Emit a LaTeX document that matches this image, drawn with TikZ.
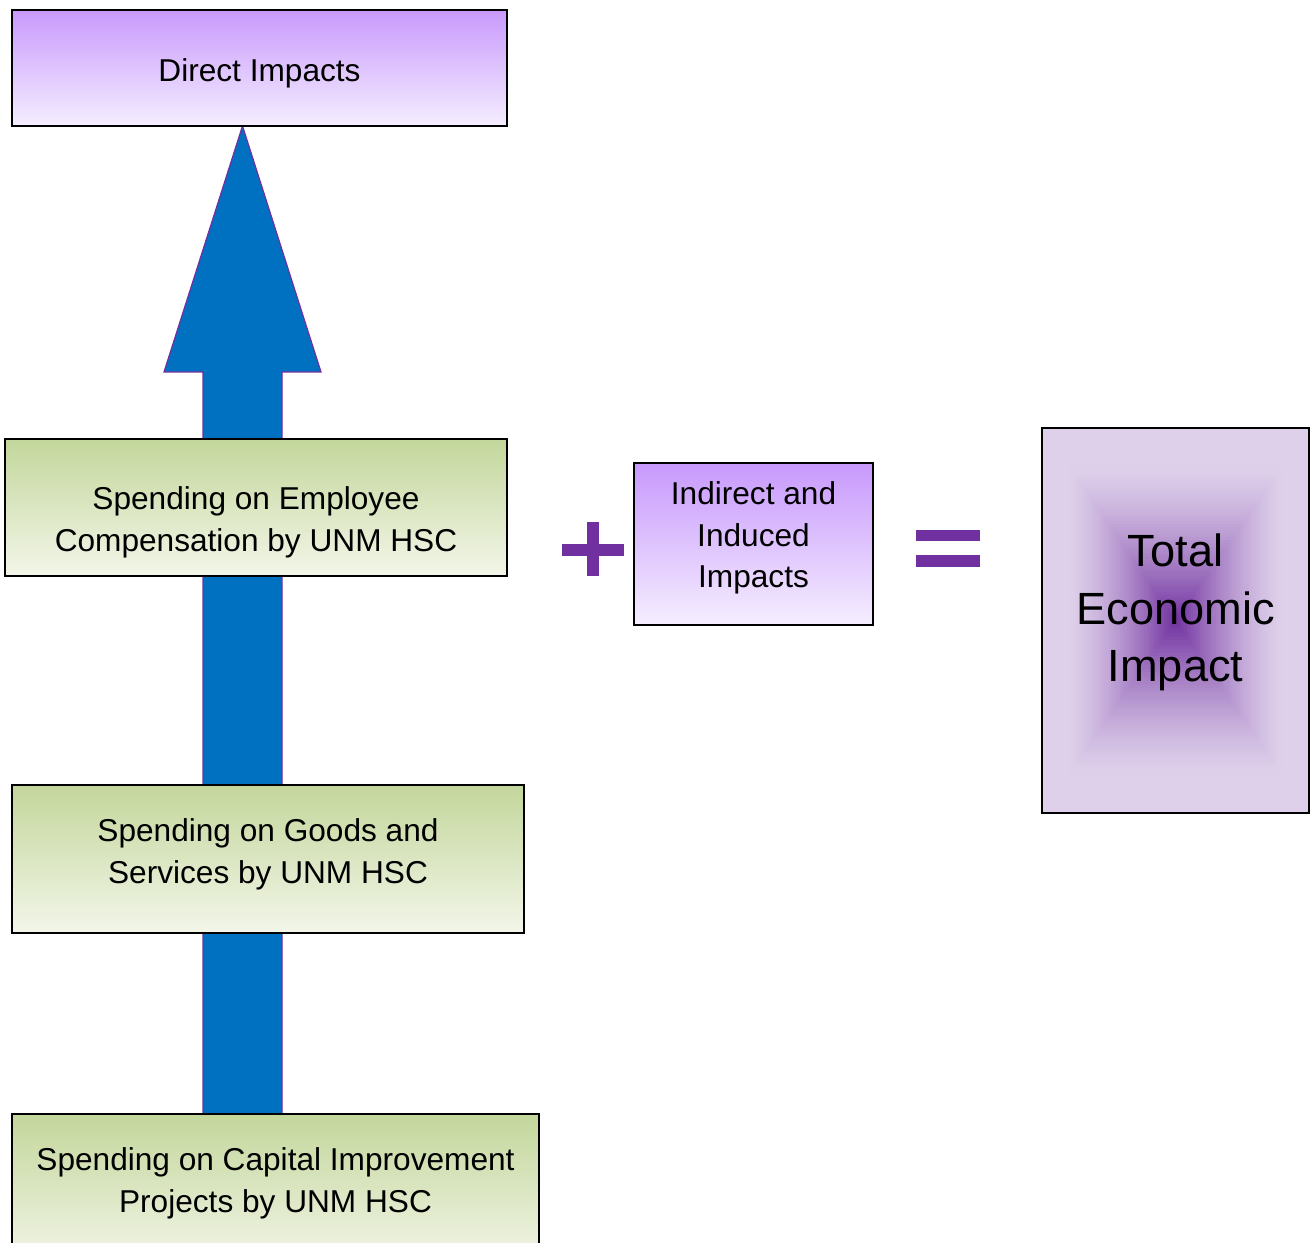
\documentclass[tikz,border=0pt]{standalone}
\usepackage{fontspec}
\setmainfont{Liberation Sans}
\definecolor{purp}{HTML}{7030A0}
\definecolor{lightp}{HTML}{DED0EA}
\definecolor{ptop}{HTML}{C899FC}
\definecolor{pbot}{HTML}{F5EEFF}
\definecolor{gtop}{HTML}{C3D69B}
\definecolor{gbot}{HTML}{F3F6E9}
\definecolor{arrowblue}{HTML}{0070C0}
\tikzset{
  txt/.style={align=center, font=\fontsize{18}{23.8}\selectfont, text=black},
  bigtxt/.style={align=center, font=\fontsize{25.7}{32.8}\selectfont, text=black},
  pbox/.style={draw=black, line width=1.1pt, top color=ptop, bottom color=pbot, inner sep=0pt},
  gbox/.style={draw=black, line width=1.1pt, top color=gtop, bottom color=gbot, inner sep=0pt},
  bigarrow/.style={fill=arrowblue, draw=purp, line width=0.7pt, line join=miter},
  opbar/.style={draw=purp, line width=6.4pt},
}
\begin{document}
\begin{tikzpicture}[x=0.02cm, y=-0.02cm]
\useasboundingbox (0,0) rectangle (1312,1243);
% big arrow (behind boxes)
\coordinate (abot) at (242.5,1114);
\coordinate (atip) at (242.5,126);
\draw[bigarrow] (203,1114) -- (203,372) -- (164,372) -- (atip) -- (321,372) -- (282,372) -- (282,1114) -- cycle;
% boxes
\node[pbox, minimum width=9.9cm, minimum height=2.32cm] (direct) at (259.5,68) {};
\node[txt, yshift=-0.1cm] (direct-t) at (direct.center) {Direct Impacts};
\node[gbox, minimum width=10.04cm, minimum height=2.74cm] (employee) at (256,507.5) {};
\node[txt, yshift=-0.3cm] (employee-t) at (employee.center) {Spending on Employee\\Compensation by UNM HSC};
\node[gbox, minimum width=10.24cm, minimum height=2.96cm] (goods) at (268,859) {};
\node[txt, yshift=0.1cm] (goods-t) at (goods.center) {Spending on Goods and\\Services by UNM HSC};
\node[gbox, minimum width=10.54cm, minimum height=3.04cm] (capital) at (275.5,1190) {};
\node[txt, yshift=0.14cm] (capital-t) at (capital.center) {Spending on Capital Improvement\\Projects by UNM HSC};
\node[pbox, minimum width=4.78cm, minimum height=3.24cm] (indirect) at (753.5,544) {};
\node[txt, yshift=0.12cm] (indirect-t) at (indirect.center) {Indirect and\\Induced\\Impacts};
% plus
\coordinate (plusc) at (593,550);
\draw[opbar] (562,550) -- (624,550);
\draw[opbar] (593,522) -- (593,576);
% equals
\draw[opbar] (916,535.5) -- (980,535.5);
\draw[opbar] (916,561) -- (980,561);
% total box with rectangular path gradient
\foreach \i in {0,...,59}{
  \pgfmathsetmacro\t{1-\i/60}
  \pgfmathsetmacro\m{100*(max(0,1-\t/0.82))^1.4}
  \fill[purp!\m!lightp] ({1175.5-133.5*\t},{620.5-192.5*\t}) rectangle ({1175.5+133.5*\t},{620.5+192.5*\t});
}
\node[draw=black, line width=1.1pt, minimum width=5.34cm, minimum height=7.7cm, inner sep=0pt] (total) at (1175.5,620.5) {};
\node[bigtxt, yshift=0.16cm] (total-t) at (total.center) {Total\\Economic\\Impact};
\end{tikzpicture}
\end{document}
